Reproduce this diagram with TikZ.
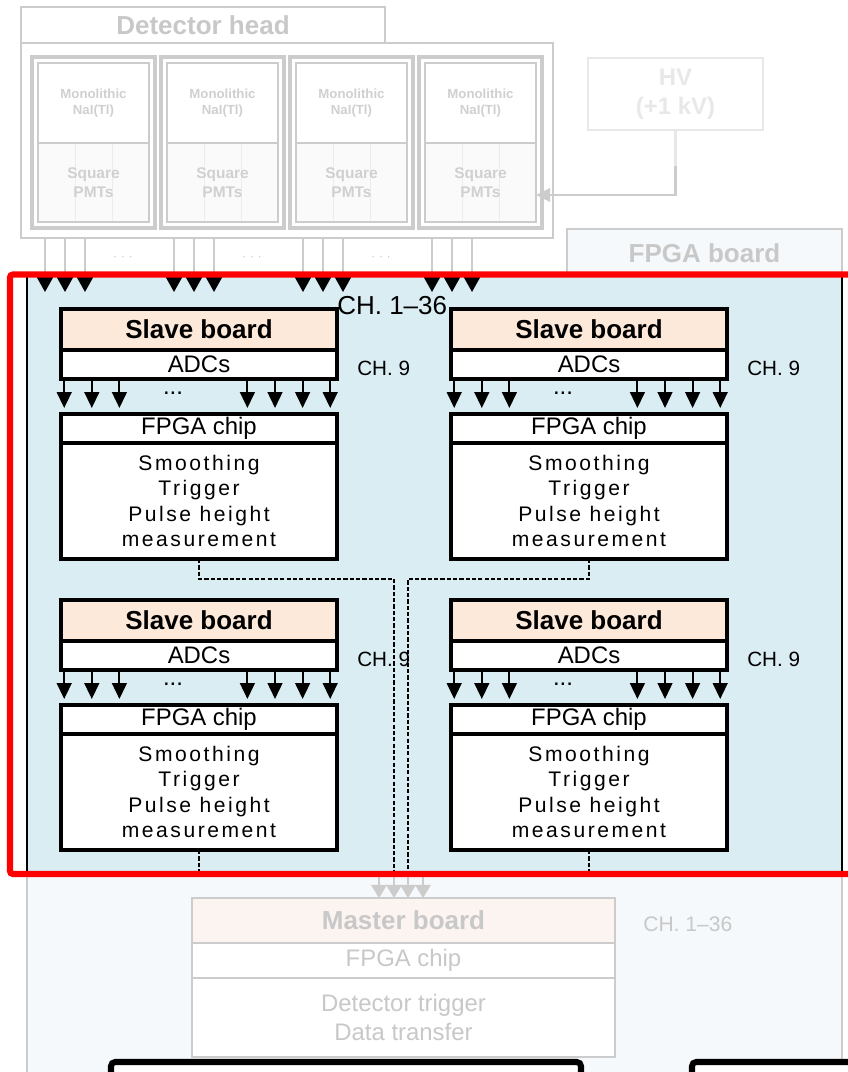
\documentclass[tikz,border=0pt]{standalone}
\usepackage{fontspec}
\setmainfont{Liberation Sans}
\setsansfont{Liberation Sans}
\newfontfamily\spacedfont[LetterSpace=12]{Liberation Sans}
\usetikzlibrary{arrows.meta,positioning,calc}

\definecolor{boardblue}{RGB}{218,237,243}
\definecolor{boardfade}{RGB}{245,249,251}
\definecolor{slavepeach}{RGB}{253,233,217}
\definecolor{masterpeach}{RGB}{251,244,241}
\definecolor{fadeline}{RGB}{204,204,204}
\definecolor{fadetext}{RGB}{200,200,200}
\definecolor{modtext}{RGB}{208,208,208}
\definecolor{hvgray}{RGB}{232,232,232}
\definecolor{pmtfill}{RGB}{250,250,250}
\definecolor{pmtline}{RGB}{236,236,236}

\begin{document}
\begin{tikzpicture}[font=\sffamily, every node/.style={align=center},
  sig/.style={draw=fadeline, line width=1.4pt, -{Triangle[length=0.37cm,width=0.4cm,color=black]}},
  adcarrow/.style={draw=black, line width=1.5pt, shorten >=0.15cm, -{Triangle[length=0.4cm,width=0.37cm]}},
  bus/.style={draw=black, line width=1.2pt, dash pattern=on 3pt off 1.5pt},
  marrow/.style={draw=fadeline, line width=1.4pt, -{Triangle[length=0.33cm,width=0.39cm]}},
  hvwire/.style={draw=fadeline, line width=2pt, -{Triangle[length=0.35cm,width=0.33cm]}}]

\useasboundingbox (0,0) rectangle (21.2,-26.8);

% styles
\tikzset{
  fadebox/.style={rectangle, draw=fadeline, line width=2pt, fill=white, inner sep=0pt, outer sep=0pt, text=fadetext},
  headtitle/.style={fadebox, font=\sffamily\bfseries\fontsize{18.5}{22}\selectfont},
  module/.style={fadebox, line width=2.2pt, minimum width=3.075cm, minimum height=4.275cm},
  crystal/.style={fadebox, line width=1.5pt, minimum width=2.775cm, minimum height=2cm, text=modtext, font=\sffamily\bfseries\fontsize{9.4}{11.3}\selectfont},
  pmt/.style={crystal, fill=pmtfill, minimum height=1.975cm, font=\sffamily\bfseries\fontsize{11}{13.6}\selectfont,
    path picture={\draw[draw=pmtline, line width=0.6pt]
      ($(path picture bounding box.south west)!1/3!(path picture bounding box.south east)$) -- ($(path picture bounding box.north west)!1/3!(path picture bounding box.north east)$)
      ($(path picture bounding box.south west)!2/3!(path picture bounding box.south east)$) -- ($(path picture bounding box.north west)!2/3!(path picture bounding box.north east)$);}},
  hvbox/.style={fadebox, draw=hvgray, text=hvgray, minimum width=4.375cm, minimum height=1.8cm, font=\sffamily\bfseries\fontsize{17}{20.6}\selectfont},
  slavetitle/.style={rectangle, draw=black, line width=2.3pt, fill=slavepeach, minimum width=6.9cm, minimum height=1.025cm, inner sep=0pt, outer sep=0pt, font=\sffamily\bfseries\fontsize{18.5}{22}\selectfont},
  adcbox/.style={slavetitle, fill=white, minimum height=0.725cm, font=\sffamily\fontsize{17}{20}\selectfont},
  bodybox/.style={adcbox, minimum height=2.9cm, font=\spacedfont\fontsize{15}{18.1}\selectfont},
  chlabel/.style={inner sep=0pt, font=\sffamily\fontsize{14.7}{17}\selectfont},
  mastertitle/.style={fadebox, fill=masterpeach, minimum width=10.575cm, minimum height=1.125cm, font=\sffamily\bfseries\fontsize{18.5}{22}\selectfont},
  masterrow/.style={fadebox, minimum width=10.575cm, minimum height=0.875cm, font=\sffamily\fontsize{17}{20}\selectfont},
  pcbox/.style={rectangle, draw=black, line width=4.3pt, fill=white, rounded corners=3pt, inner sep=0pt, outer sep=0pt},
  redframe/.style={draw=red, line width=4.3pt, rounded corners=2pt}
}

% detector head
\node[headtitle, minimum width=13.3cm, minimum height=4.875cm] (det) at (7.175,-3.5125) {};
\node[headtitle, minimum width=9.1cm, minimum height=0.9cm] (dettitle) at (5.075,-0.625) {Detector head};

\foreach \i in {1,...,4} {
  \pgfmathsetmacro{\mx}{2.3375+3.225*(\i-1)}
  \node[module] (m\i) at (\mx,-3.5625) {};
  \node[crystal] (c\i) at (\mx,-2.575) {Monolithic\\NaI(Tl)};
  \node[pmt] (p\i) at (\mx,-4.5625) {Square\\PMTs};
}

% HV supply
\node[hvbox] (hv) at (16.8875,-2.35) {HV\\(+1 kV)};
\draw[hvwire] (hv.south) |- ($(p4.east)+(0,-0.3125)$);
\draw[draw=hvgray, line width=2pt] (hv.south) -- ++(0,-0.9);

% FPGA board (faded part and highlighted part)
\node[fadebox, fill=boardfade, minimum width=20.375cm, minimum height=21cm, anchor=north west] (board) at (0.675,-6.9) {};
\node[headtitle, fill=boardfade, minimum width=6.875cm, minimum height=1.225cm] (fpgatab) at (17.6125,-6.3375) {FPGA board};
\node[rectangle, draw=black, line width=1.5pt, fill=boardblue, minimum width=20.375cm, minimum height=14.95cm, inner sep=0pt, outer sep=0pt, anchor=north west] (hl) at (0.675,-6.9) {};

% signal lines from the PMTs
\foreach \i in {1,...,4} {
  \foreach \dx in {-1.2125,-0.7125,-0.2125}
    \draw[sig] ($(m\i.south)+(\dx,-0.25)$) -- ++(0,-1.35);
}
\foreach \i in {1,2,3}
  \node[inner sep=0pt, text=fadetext, font=\sffamily\fontsize{9}{10}\selectfont] at ($(m\i.south)+(0.7375,-0.75)$) {· · ·};

% slave boards
\foreach \sb/\x/\y in {a/4.975/-7.725, b/14.725/-7.725, c/4.975/-15.0, d/14.725/-15.0} {
  \node[slavetitle, anchor=north] (\sb title) at (\x,\y) {Slave board};
  \node[adcbox, below=0pt of \sb title] (\sb adc) {ADCs};
  \node[adcbox, below=0.875cm of \sb adc] (\sb chip) {FPGA chip};
  \node[bodybox, below=0pt of \sb chip] (\sb body) {Smoothing\\Trigger\\Pulse height\\measurement};
  \node[chlabel, right=0.5cm of \sb adc, yshift=-0.1cm] (\sb ch) {CH. 9};
  \foreach \o in {0.08,0.77,1.46,4.66,5.35,6.04,6.73}
    \draw[adcarrow] ($(\sb adc.south west)+(\o,0)$) -- ($(\sb chip.north west)+(\o,0)$);
  \node[anchor=base, inner sep=0pt, font=\sffamily\fontsize{17}{20}\selectfont] at ($(\sb adc.south west)+(2.8,-0.375)$) {...};
}
\node[anchor=west, inner sep=0pt, font=\sffamily\fontsize{18.5}{22}\selectfont] (chall) at ($(atitle.north east)+(0,0.085)$) {CH. 1–36};

% master board
\node[mastertitle, anchor=north] (mtitle) at (10.0875,-22.45) {Master board};
\node[masterrow, below=0pt of mtitle] (mchip) {FPGA chip};
\node[masterrow, minimum height=1.975cm, font=\sffamily\fontsize{17}{20}\selectfont, below=0pt of mchip] (mbody) {Detector trigger\\Data transfer};
\node[chlabel, text=fadetext, font=\sffamily\fontsize{15}{17}\selectfont, right=0.7cm of mtitle, yshift=-0.1cm] (mch) {CH. 1–36};

\coordinate (ma) at ($(mtitle.north)+(-0.6125,0)$);
\coordinate (mb) at ($(mtitle.north)+(-0.2375,0)$);
\coordinate (mc) at ($(mtitle.north)+(0.1125,0)$);
\coordinate (md) at ($(mtitle.north)+(0.4875,0)$);

% data lines to the master board
\draw[bus] (abody.south) -- ++(0,-0.5) -| (mb |- hl.south);
\draw[bus] (bbody.south) -- ++(0,-0.5) -| (mc |- hl.south);
\draw[bus] (cbody.south) -- (cbody.south |- hl.south);
\draw[bus] (dbody.south) -- (dbody.south |- hl.south);
\foreach \m in {ma,mb,mc,md}
  \draw[marrow] (\m |- hl.south) -- (\m);

% highlight frame
\draw[redframe] ($(hl.north west)+(-0.425,0.0375)$) rectangle ($(hl.south east)+(0.6,0)$);

% boxes cut by the lower edge
\node[pcbox, minimum width=11.75cm, minimum height=2cm, anchor=north west] (pc1) at (2.775,-26.55) {};
\node[pcbox, minimum width=5cm, minimum height=2cm, anchor=north west] (pc2) at (17.3,-26.55) {};

\end{tikzpicture}
\end{document}
